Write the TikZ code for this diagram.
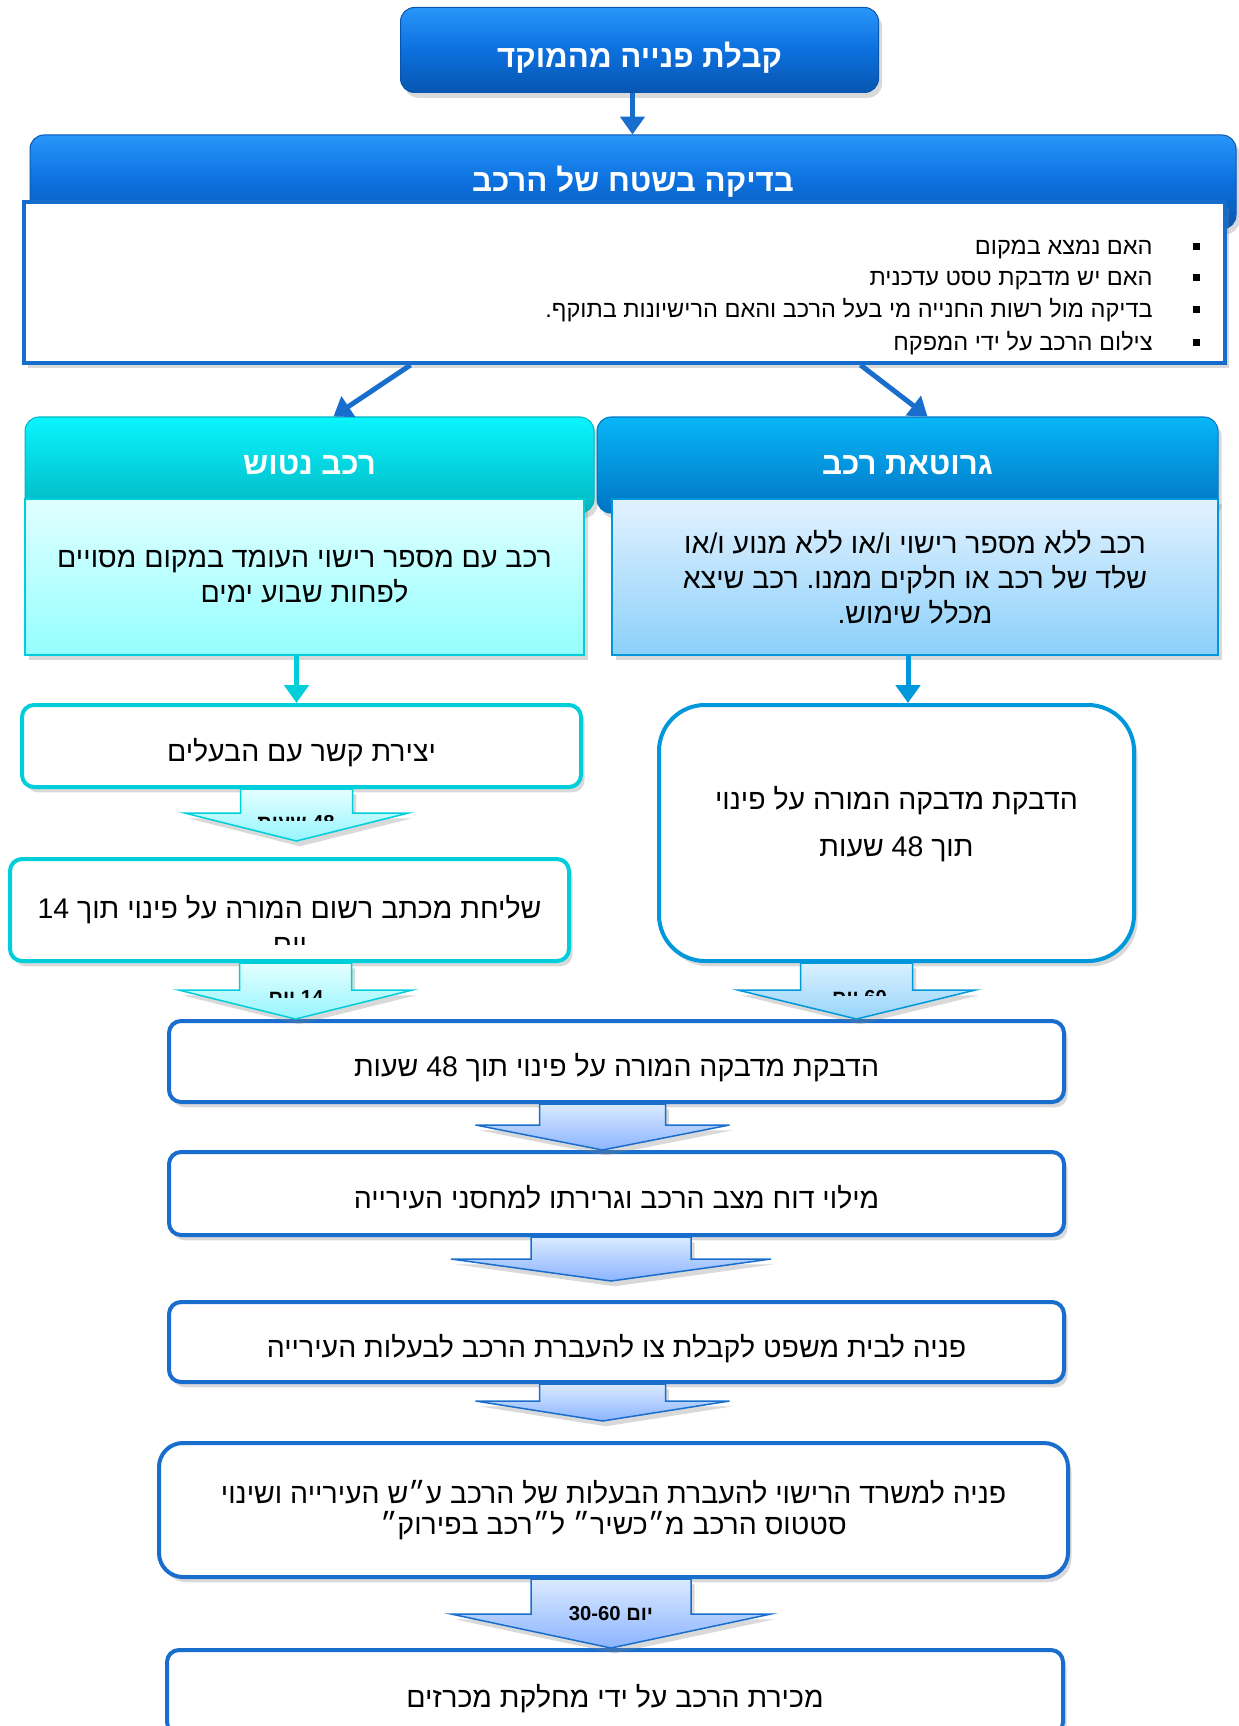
\documentclass[tikz,border=0pt]{standalone}
\usepackage{fontspec}
\setmainfont{Liberation Sans}
\newfontfamily\hebfont[Script=Hebrew]{Liberation Sans}
\usetikzlibrary{arrows.meta,calc,shadows}
\TeXXeTstate=1
\frenchspacing
\newdimen\px \px=0.02cm
\newcommand\heb[1]{\beginR #1\endR}

\definecolor{hdrtop}{RGB}{40,150,250}
\definecolor{hdrmid}{RGB}{12,112,222}
\definecolor{hdrbot}{RGB}{8,86,176}
\definecolor{chkline}{RGB}{22,108,205}
\definecolor{cyantop}{RGB}{10,245,255}
\definecolor{cyanbot}{RGB}{0,182,192}
\definecolor{skytop}{RGB}{8,182,247}
\definecolor{skybot}{RGB}{0,116,196}
\definecolor{palecyantop}{RGB}{225,255,255}
\definecolor{palecyanbot}{RGB}{148,255,255}
\definecolor{cyanline}{RGB}{0,206,218}
\definecolor{paleskytop}{RGB}{226,242,255}
\definecolor{paleskybot}{RGB}{140,208,250}
\definecolor{skyline}{RGB}{0,152,218}
\definecolor{flowline}{RGB}{25,110,205}
\definecolor{flowtop}{RGB}{218,234,255}
\definecolor{flowbot}{RGB}{140,180,255}
\definecolor{cyarrtop}{RGB}{228,255,255}
\definecolor{cyarrbot}{RGB}{150,245,255}
\definecolor{skarrtop}{RGB}{218,240,255}
\definecolor{skarrbot}{RGB}{150,212,250}

% block arrow: style, top point, tip point, shaft half width, head half width, head length
\newcommand\blockdown[6]{%
  \path #2 coordinate (ba top) #3 coordinate (ba end);
  \draw[#1] ($(ba top)+(-#4,0)$) -- ($(ba top)+(#4,0)$)
    -- ($(ba top |- ba end)+(#4,-#6)$) -- ($(ba top |- ba end)+(#5,-#6)$)
    -- (ba top |- ba end) -- ($(ba top |- ba end)+(-#5,-#6)$)
    -- ($(ba top |- ba end)+(-#4,-#6)$) -- cycle;}

\begin{document}
\begin{tikzpicture}[x=\px, y=-\px,
  shade/.style={drop shadow={opacity=0.3,shadow xshift=2pt,shadow yshift=-3pt}},
  bluehdr/.style={shade,rounded corners=14\px,draw=hdrbot,line width=1\px,
    top color=hdrtop,bottom color=hdrbot,middle color=hdrmid,text=white,
    font=\hebfont\bfseries\fontsize{17.8}{21}\selectfont},
  cyanhdr/.style={bluehdr,top color=cyantop,middle color=cyantop!60!cyanbot,bottom color=cyanbot,draw=cyanbot},
  skyhdr/.style={bluehdr,top color=skytop,middle color=skytop!60!skybot,bottom color=skybot,draw=skybot},
  txt/.style={font=\hebfont\fontsize{16.2}{20}\selectfont,align=center},
  low/.style={text height=21pt,text depth=3.4pt},
  bodybox/.style={shade,txt,line width=2.5\px},
  flowbox/.style={shade,txt,draw=flowline,line width=4\px,fill=white,rounded corners=12\px},
  cyanbox/.style={flowbox,draw=cyanline},
  bullet/.style={fill=black,minimum size=7\px,inner sep=0pt},
  bul/.style={font=\hebfont\fontsize{13.4}{16}\selectfont,inner sep=0pt,anchor=east,
    text height=9.5pt,text depth=2.7pt},
  tag/.style={font=\hebfont\bfseries\fontsize{11.5}{13}\selectfont,inner sep=0pt},
  conn/.style={line width=5\px,draw=flowline,-{Triangle[width=13.7pt,length=10.2pt]}},
  flowarr/.style={shade,draw=flowline,line width=1.5\px,top color=flowtop,bottom color=flowbot},
  cyarr/.style={shade,draw=cyanline,line width=1.5\px,top color=cyarrtop,bottom color=cyarrbot},
  skarr/.style={shade,draw=skyline,line width=1.5\px,top color=skarrtop,bottom color=skarrbot}]

\useasboundingbox (0,0) rectangle (1238,1726);

% Top of the flow.
\node[bluehdr,minimum width=478\px,minimum height=85\px,text height=24pt,text depth=3.7pt] (recv) at (639.5,50)
 {\heb{קבלת פנייה מהמוקד}};
\node[bluehdr,minimum width=1206\px,minimum height=94\px] (chkhead) at (633,182)
 {\heb{בדיקה בשטח של הרכב}};
\node[shade,draw=chkline,line width=4\px,fill=white,minimum width=1201\px,minimum height=161\px] (chk) at (624.5,282.5) {};

% Field check items.
\node[bullet] (d1) at (1196,246.5) {};
\node[bullet] (d2) at (1196,277.5) {};
\node[bullet] (d3) at (1196,309.5) {};
\node[bullet] (d4) at (1196,342.5) {};
\node[bul] (i1) at (1153,248.5) {\heb{האם נמצא במקום}};
\node[bul] (i2) at (1153,279.5) {\heb{האם יש מדבקת טסט עדכנית}};
\node[bul] (i3) at (1153,311.5) {\heb{בדיקה מול רשות החנייה מי בעל הרכב והאם הרישיונות בתוקף.}};
\node[bul] (i4) at (1153,344.5) {\heb{צילום הרכב על ידי המפקח}};

% Two branches.
\node[cyanhdr,minimum width=569\px,minimum height=96\px] (aband) at (309.5,465) {\heb{רכב נטוש}};
\node[skyhdr,minimum width=621\px,minimum height=96\px] (scrap) at (907.5,465) {\heb{גרוטאת רכב}};
\node[bodybox,draw=cyanline,top color=palecyantop,bottom color=palecyanbot,
  minimum width=559\px,minimum height=156\px] (abandtxt) at (304.5,577)
 {\heb{רכב עם מספר רישוי העומד במקום מסויים}\\\heb{לפחות שבוע ימים}};
\node[bodybox,draw=skyline,top color=paleskytop,bottom color=paleskybot,
  minimum width=606\px,minimum height=156\px] (scraptxt) at (915,577)
 {\heb{רכב ללא מספר רישוי ו/או ללא מנוע ו/או}\\\heb{שלד של רכב או חלקים ממנו. רכב שיצא}\\\heb{מכלל שימוש.}};

\draw[conn] ($(chk.south)+(-214,0)$) -- ($(aband.north)+(24,0)$);
\draw[conn] ($(chk.south)+(236,0)$) -- ($(scrap.north)+(20,0)$);
\draw[conn] ($(recv.south)+(-7,0)$) -- ($(recv.south |- chkhead.north)+(-7,0)$);

% Left branch steps.
\node[cyanbox,low,minimum width=559\px,minimum height=82\px] (contact) at (301.5,746)
 {\heb{יצירת קשר עם הבעלים}};
\node[cyanbox,minimum width=559\px,minimum height=102\px] (letter) at (289.5,910)
 {\heb{שליחת מכתב רשום המורה על פינוי תוך \beginL14\endL}};

% Right branch step.
\node[flowbox,draw=skyline,rounded corners=46\px,minimum width=475\px,minimum height=256\px,
  font=\hebfont\fontsize{16.2}{27}\selectfont,text depth=13pt] (stick) at (896.5,833)
 {\heb{הדבקת מדבקה המורה על פינוי}\\\heb{תוך \beginL48\endL{} שעות}};

% Common steps.
\node[flowbox,low,minimum width=895\px,minimum height=81\px] (sticker) at (616.5,1061.5)
 {\heb{הדבקת מדבקה המורה על פינוי תוך \beginL48\endL{} שעות}};
\node[flowbox,low,minimum width=895\px,minimum height=83\px] (report) at (616.5,1193.5)
 {\heb{מילוי דוח מצב הרכב וגרירתו למחסני העירייה}};
\node[flowbox,low,minimum width=895\px,minimum height=80\px] (court) at (616.5,1342)
 {\heb{פניה לבית משפט לקבלת צו להעברת הרכב לבעלות העירייה}};
\node[flowbox,rounded corners=24\px,minimum width=909\px,minimum height=134\px,
  font=\hebfont\fontsize{16.2}{17.6}\selectfont] (dmv) at (613.5,1510)
 {\heb{פניה למשרד הרישוי להעברת הבעלות של הרכב ע״ש העירייה ושינוי}\\\heb{סטטוס הרכב מ״כשיר״ ל״רכב בפירוק״}};
\node[flowbox,low,minimum width=896\px,minimum height=84\px] (sale) at (615,1692)
 {\heb{מכירת הרכב על ידי מחלקת מכרזים}};

% Thin connectors into the first steps.
\coordinate (ab out) at ($(abandtxt.south)+(-8,0)$);
\coordinate (sc out) at ($(scraptxt.south)+(-7,0)$);
\draw[conn,draw=cyanline] (ab out) -- (ab out |- contact.north);
\draw[conn,draw=skyline] (sc out) -- (sc out |- stick.north);

% Block arrows.
\blockdown{cyarr}{($(contact.south)+(-5,0)$)}{($(letter.north)+(0,-16)$)}{56}{112}{28}
\blockdown{cyarr}{($(letter.south)+(6,0)$)}{(sticker.north)}{56}{117}{29}
\blockdown{skarr}{($(stick.south)+(-40,0)$)}{(sticker.north)}{56}{119}{29}
\blockdown{flowarr}{($(sticker.south)+(-14,0)$)}{(report.north)}{63}{127}{25}
\blockdown{flowarr}{($(report.south)+(-5.5,0)$)}{($(court.north)+(0,-19)$)}{80}{160}{22}
\blockdown{flowarr}{($(court.south)+(-14,0)$)}{($(dmv.north)+(0,-20)$)}{63}{127}{20}
\blockdown{flowarr}{($(dmv.south)+(-2.5,0)$)}{(sale.north)}{80}{160}{34}

% Labels cut by their text frames.
\begin{scope}
  \clip (240,800) rectangle (352,820);
  \node[tag,anchor=north] (wait1) at (296,815) {\heb{\beginL48\endL{} שעות}};
\end{scope}
\begin{scope}
  \clip (240,980) rectangle (352,997);
  \node[tag,anchor=north] (wait2) at (296,990) {\heb{\beginL14\endL{} יום}};
\end{scope}
\begin{scope}
  \clip (803,980) rectangle (913,995);
  \node[tag,anchor=north] (wait3) at (859.5,990) {\heb{\beginL60\endL{} יום}};
\end{scope}
\begin{scope}
  \clip (200,930) rectangle (380,944);
  \node[txt,anchor=north,inner sep=0pt] (letter2) at (290,937) {\heb{יום}};
\end{scope}
\node[tag] (wait4) at (611,1614) {\heb{יום \beginL30-60\endL}};
\end{tikzpicture}
\end{document}
